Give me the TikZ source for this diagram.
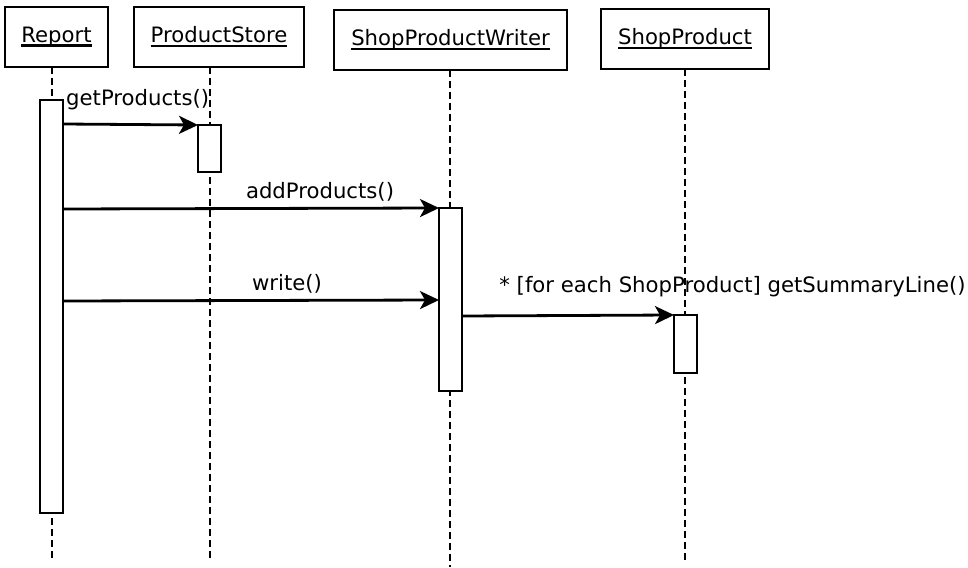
\documentclass[tikz,border=0pt]{standalone}
\usepackage{fontspec}
\setmainfont{DejaVu Sans}
\usetikzlibrary{arrows.meta}
\newcommand{\myul}[1]{\setbox0\hbox{#1}\rlap{\rule[-4.5pt]{\wd0}{2.6pt}}\box0}
\begin{document}
\begin{tikzpicture}[x=1pt,y=-1pt,
  font=\fontsize{21.2}{25}\selectfont,
  hdr/.style={draw,line width=2.8pt,inner sep=0pt,outer sep=0pt,minimum height=60pt},
  bar/.style={draw,fill=white,line width=2.8pt,inner sep=0pt,outer sep=0pt,minimum width=23pt},
  life/.style={line width=2.8pt,dash pattern=on 7pt off 4pt},
  msg/.style={line width=2.8pt,-{Stealth[length=19pt,width=18pt,inset=5pt]}},
  lbl/.style={inner sep=0pt}]
\useasboundingbox (0,0) rectangle (968,567);
% headers
\node[hdr,minimum width=103pt] (report) at (56.5,37) {\myul{Report}};
\node[hdr,minimum width=170pt] (store) at (219,37) {\myul{ProductStore}};
\node[hdr,minimum width=233pt] (writer) at (450.5,40) {\myul{ShopProductWriter}};
\node[hdr,minimum width=168pt] (sprod) at (685,39) {\myul{ShopProduct}};
% lifeline ends
\coordinate (rend) at (52,560);
\coordinate (send) at (210,558);
\coordinate (wend) at (450,567);
\coordinate (pend) at (685,560);
\coordinate (rtop) at (52,67);
\coordinate (stop) at (210,67);
\coordinate (wtop) at (450,70);
\coordinate (ptop) at (685,69);
\draw[life] (rtop) -- (rend);
\draw[life] (stop) -- (send);
\draw[life] (wtop) -- (wend);
\draw[life] (ptop) -- (pend);
% activation bars
\node[bar,minimum height=413pt] (rbar) at (51.5,306.5) {};
\node[bar,minimum height=47pt] (sbar) at (209.5,148.5) {};
\node[bar,minimum height=183pt] (wbar) at (450.5,299.5) {};
\node[bar,minimum height=58pt] (pbar) at (685.5,344) {};
% messages
\coordinate (m1) at (63,124);
\coordinate (m2) at (63,209);
\coordinate (m3) at (63,301);
\coordinate (m3e) at (439,300);
\coordinate (m4) at (462,316);
\draw[msg] (m1) -- (sbar.north west);
\draw[msg] (m2) -- (wbar.north west);
\draw[msg] (m3) -- (m3e);
\draw[msg] (m4) -- (pbar.north west);
% labels
\node[lbl,anchor=west] (l1) at (66,100) {getProducts()};
\node[lbl] (l2) at (320,192) {addProducts()};
\node[lbl] (l3) at (287,284) {write()};
\node[lbl] (l4) at (732.5,287) {* [for each ShopProduct] getSummaryLine()};
\end{tikzpicture}
\end{document}
